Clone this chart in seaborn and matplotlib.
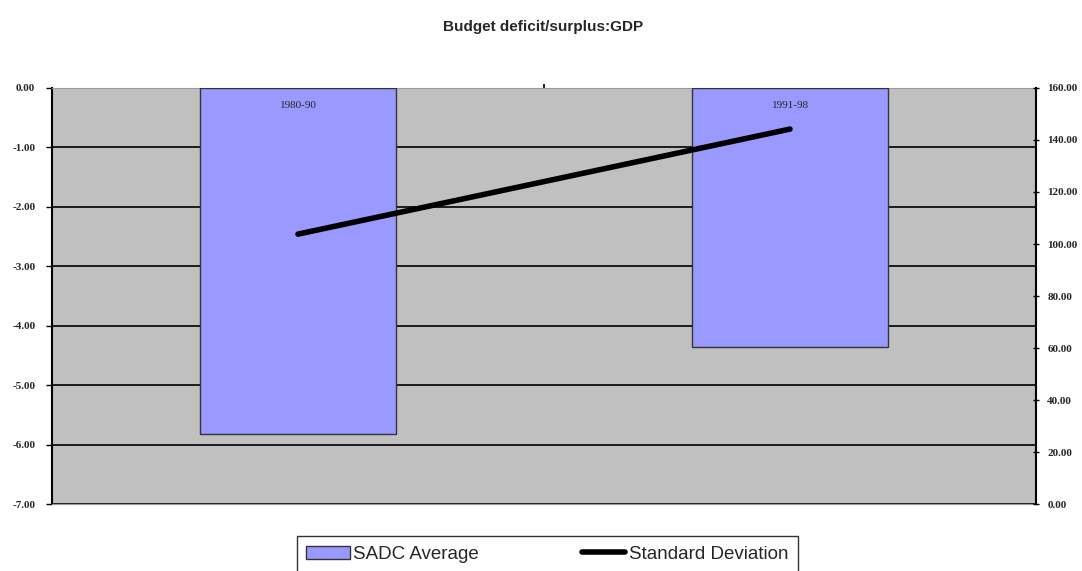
import matplotlib
matplotlib.use("Agg")
import matplotlib.pyplot as plt
import matplotlib.transforms as mtransforms
import seaborn as sns
import numpy as np
import pandas as pd
from matplotlib.patches import Patch
from matplotlib.lines import Line2D

categories = ["1980-90", "1991-98"]
sadc_average = [-5.82, -4.36]
std_dev = [103.8, 144.2]
left_ticks = [0, -1, -2, -3, -4, -5, -6, -7]
right_ticks = [0, 20, 40, 60, 80, 100, 120, 140, 160]

sns.set_theme(style="white")
plt.rcParams['font.family'] = ['Liberation Sans', 'DejaVu Sans']

fig = plt.figure(figsize=(10.82, 5.71), dpi=100)
ax = fig.add_axes([0.048, 0.1173, 0.9095, 0.7286])
ax.set_facecolor("#C0C0C0")

df = pd.DataFrame({"period": categories, "avg": sadc_average})
sns.barplot(data=df, x="period", y="avg", ax=ax, color="#9999FF",
            saturation=1, width=0.4, edgecolor="#333333", linewidth=1, zorder=3)

ax.set_ylim(-7, 0)
ax.set_xlim(-0.5, len(categories) - 0.5)
ax.set_yticks(left_ticks)
ax.set_yticklabels([f"{t:.2f}" for t in left_ticks], family="Liberation Serif",
                   fontsize=8, fontweight="bold")
ax.yaxis.grid(True, color="black", linewidth=1.2, zorder=1)
ax.set_axisbelow(True)
ax.set_xlabel("")
ax.set_ylabel("")
ax.set_xticks([0.5])
ax.tick_params(axis="x", top=True, bottom=False, labeltop=False, labelbottom=False,
               direction="out", length=3, color="black")

# category labels placed inside bars just below the zero line
trans = mtransforms.blended_transform_factory(ax.transData, ax.transAxes)
for i, cat in enumerate(categories):
    ax.text(i, 0.957, cat, transform=trans, ha="center", va="center",
            family="Liberation Serif", fontsize=8, zorder=10)

ax.tick_params(axis="y", left=True, length=4, width=1, color="black", pad=8)

ax.spines["left"].set_color("black")
ax.spines["left"].set_linewidth(1.5)
for s in ["top", "bottom"]:
    ax.spines[s].set_color("#9a9a9a")
    ax.spines[s].set_linewidth(0.8)
ax.spines["right"].set_visible(False)

ax2 = ax.twinx()
sns.lineplot(x=np.arange(len(categories)), y=std_dev, ax=ax2, color="black",
             linewidth=4, solid_capstyle="round")
ax2.set_ylim(0, 160)
ax2.set_yticks(right_ticks)
ax2.set_yticklabels([f"{t:.2f}" for t in right_ticks], family="Liberation Serif",
                    fontsize=8, fontweight="bold")
ax2.tick_params(axis="y", right=True, length=4, width=1, color="black", direction="inout", pad=6)
ax2.spines["right"].set_color("black")
ax2.spines["right"].set_linewidth(1.5)
ax2.spines["left"].set_visible(False)
ax2.spines["top"].set_visible(False)
ax2.spines["bottom"].set_visible(False)
ax2.grid(False)

fig.suptitle("Budget deficit/surplus:GDP", x=0.502, y=0.965, fontsize=11, fontweight="bold")

handles = [Patch(facecolor="#9999FF", edgecolor="#333333", label="SADC Average"),
           Line2D([0], [0], color="black", linewidth=4, label="Standard Deviation")]
leg = fig.legend(handles=handles, loc="lower center", bbox_to_anchor=(0.506, -0.012), ncol=2,
                 frameon=True, fancybox=False, fontsize=13.5, columnspacing=5.5,
                 handlelength=2.3, handletextpad=0.2, borderpad=0.5, borderaxespad=0.3)
leg.get_frame().set_edgecolor("black")
leg.get_frame().set_linewidth(1)

fig.savefig("out.png", dpi=100)
